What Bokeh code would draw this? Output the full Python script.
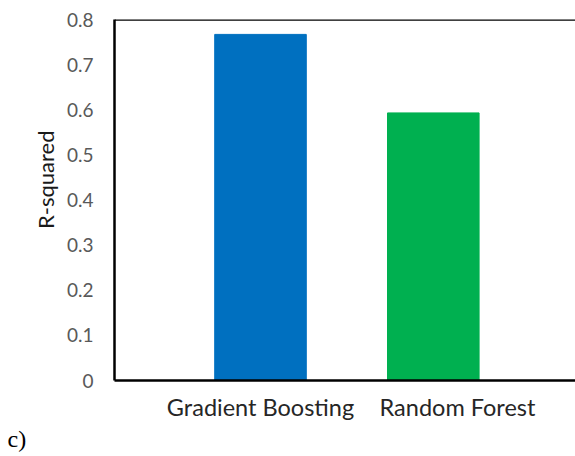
from bokeh.plotting import figure
from bokeh.models import ColumnDataSource, FixedTicker, Span, Title
from bokeh.embed import file_html
from bokeh.resources import INLINE

categories = ["Gradient Boosting", "Random Forest"]
r_squared = [0.767, 0.593]
bar_colors = ["#0070C0", "#00B050"]
y_ticks = [0, 0.1, 0.2, 0.3, 0.4, 0.5, 0.6, 0.7, 0.8]
y_tick_labels = ["0", "0.1", "0.2", "0.3", "0.4", "0.5", "0.6", "0.7", "0.8"]

xs = list(range(len(categories)))
src = ColumnDataSource(dict(x=xs, top=r_squared, color=bar_colors, name=categories))

# category label anchor positions (the reference's second label sits a little right of its bar)
label_shift = [0.0, 0.14]
label_pos = [x + s for x, s in zip(xs, label_shift)]

p = figure(width=575, height=456, x_range=(-0.845, 1.823), y_range=(0, 0.8),
           output_backend="svg", toolbar_location=None,
           min_border_left=114, min_border_right=0, min_border_top=19, min_border_bottom=76)
p.outline_line_color = None
p.background_fill_color = "white"
p.border_fill_color = "white"
p.xgrid.visible = False
p.ygrid.visible = False

p.vbar(x="x", top="top", width=0.53, color="color", source=src)

# x axis
p.xaxis.ticker = FixedTicker(ticks=label_pos)
p.xaxis.major_label_overrides = {pos: c for pos, c in zip(label_pos, categories)}
p.xaxis.major_tick_line_color = None
p.xaxis.minor_tick_line_color = None
p.xaxis.major_tick_out = 0
p.xaxis.major_tick_in = 0
p.xaxis.axis_line_color = "black"
p.xaxis.axis_line_width = 2.5
p.xaxis.major_label_standoff = 12
p.xaxis.major_label_text_font = "Lato"
p.xaxis.major_label_text_font_size = "23.5px"
p.xaxis.major_label_text_color = "#262626"

# y axis
p.yaxis.ticker = FixedTicker(ticks=y_ticks)
p.yaxis.major_label_overrides = {t: l for t, l in zip(y_ticks, y_tick_labels)}
p.yaxis.major_tick_line_color = None
p.yaxis.minor_tick_line_color = None
p.yaxis.major_tick_out = 0
p.yaxis.major_tick_in = 0
p.yaxis.axis_line_color = "black"
p.yaxis.axis_line_width = 2.5
p.yaxis.major_label_standoff = 21
p.yaxis.major_label_text_font = "Lato"
p.yaxis.major_label_text_font_size = "19px"
p.yaxis.major_label_text_color = "#595959"

# axis title as a side title so it is not clipped
p.add_layout(Title(text="R-squared", align="right", offset=111, standoff=10,
                   text_font="Lato", text_font_size="22px", text_font_style="normal",
                   text_color="#1a1a1a"), "left")

# top border of chart area
p.add_layout(Span(location=0.8, dimension="width", line_color="black", line_width=2.5))

# panel letter
p.add_layout(Title(text="c)", align="left", offset=-107, standoff=0,
                   text_font="Liberation Serif", text_font_size="24px",
                   text_font_style="normal", text_color="black"), "below")

open("out.html", "w").write(file_html(p, INLINE))
